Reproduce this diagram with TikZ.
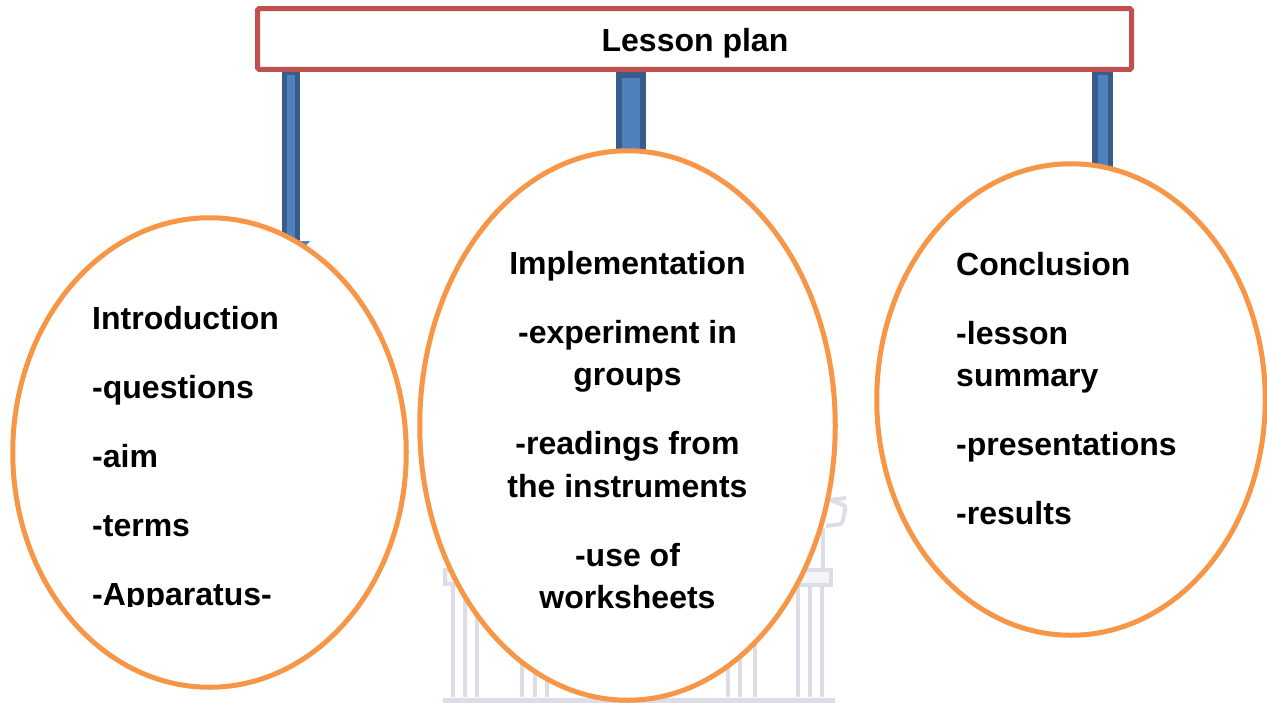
\documentclass[tikz,border=0pt]{standalone}
\usepackage{fontspec}
\setmainfont{Liberation Sans}
\usetikzlibrary{shapes.geometric}
\definecolor{boxred}{HTML}{C0504D}
\definecolor{ovalorange}{HTML}{F79646}
\definecolor{barblue}{HTML}{4F81BD}
\definecolor{bardark}{HTML}{385D8A}
\definecolor{ghostgray}{HTML}{DCDDE7}
\pgfdeclarelayer{behind}
\pgfsetlayers{behind,main}
\tikzset{
  x=1pt,y=-1pt,
  lessonbox/.style={draw=boxred,line width=5pt,fill=white,rounded corners=1.5pt,minimum width=874pt,minimum height=60.7pt,inner sep=0pt,font=\fontsize{32}{42}\selectfont\bfseries},
  oval/.style={ellipse,draw=ovalorange,line width=5pt,fill=white,inner sep=0pt},
  lbl/.style={inner sep=0pt,anchor=base,font=\fontsize{32}{42}\selectfont\bfseries,text=black},
  lblw/.style={lbl,anchor=base west},
  ghost/.style={draw=ghostgray,line width=4pt},
  barouter/.style={draw=bardark,line cap=butt},
  barinner/.style={draw=barblue,line cap=butt},
}
\begin{document}
\begin{tikzpicture}
\useasboundingbox (0,0) rectangle (1267,702);
% nodes
\node[lessonbox] (lesson) at (694.5,38.9) {};
\node[lbl] (ltitle) at (695,51) {Lesson plan};
\node[oval,minimum width=393.5pt,minimum height=469.5pt] (intro) at (209.5,452.5) {};
\node[oval,minimum width=415.5pt,minimum height=549.5pt] (impl) at (627.5,425.5) {};
\node[oval,minimum width=388.5pt,minimum height=471.5pt] (concl) at (1071,399.5) {};
% connector end points, hidden behind the ovals
\coordinate (endi) at (291,250);
\coordinate (endm) at (631,170);
\coordinate (endc) at (1102.5,180);
\begin{pgfonlayer}{behind}
  % faint background emblem
  \foreach \cx in {453,465,477,522,535,547,728,740,755,798,810,822}
    \draw[ghost] (\cx,585) -- (\cx,697);
  \draw[ghost,line width=5pt] (443,700) -- (835,700);
  \draw[ghost,fill=ghostgray!30] (445,570) rectangle (482,584);
  \draw[ghost,fill=ghostgray!30] (798,570) rectangle (831,585);
  \draw[ghost] (823,569) -- (823,528);
  \draw[ghost,rounded corners=3pt] (826,526) -- (842,524) -- (846,506) -- (830,500) -- (846,498);
  % connectors
  \draw[barouter,line width=18pt] (lesson.south -| endi) -- (endi);
  \draw[barinner,line width=8pt] ([yshift=-3pt]lesson.south -| endi) -- (endi);
  \fill[barblue] (298,241) -- (310,241) -- (305,247) -- cycle;
  \draw[barouter,line width=29.5pt] (lesson.south -| endm) -- (endm);
  \draw[barinner,line width=18.5pt] ([yshift=-6pt]lesson.south -| endm) -- (endm);
  \draw[barouter,line width=21pt] (lesson.south -| endc) -- (endc);
  \draw[barinner,line width=10pt] ([yshift=-3pt]lesson.south -| endc) -- (endc);
\end{pgfonlayer}
% Introduction
\node[lblw] (i1) at (92,329) {Introduction};
\node[lblw] (i2) at (92,398) {-questions};
\node[lblw] (i3) at (92,467) {-aim};
\node[lblw] (i4) at (92,536) {-terms};
\begin{scope}
  \clip (60,570) rectangle (320,606.5);
  \node[lblw] (i5) at (92,605) {-Apparatus-};
\end{scope}
% Implementation
\node[lbl] (m1) at (627.5,274) {Implementation};
\node[lbl] (m2) at (627.5,343) {-experiment in};
\node[lbl] (m3) at (627.5,385) {groups};
\node[lbl] (m4) at (627.5,454) {-readings from};
\node[lbl] (m5) at (627.5,497) {the instruments};
\node[lbl] (m6) at (627.5,566) {-use of};
\node[lbl] (m7) at (627.5,608) {worksheets};
% Conclusion
\node[lblw] (c1) at (956,275) {Conclusion};
\node[lblw] (c2) at (956,344) {-lesson};
\node[lblw] (c3) at (956,386) {summary};
\node[lblw] (c4) at (956,455) {-presentations};
\node[lblw] (c5) at (956,524) {-results};
\end{tikzpicture}
\end{document}
